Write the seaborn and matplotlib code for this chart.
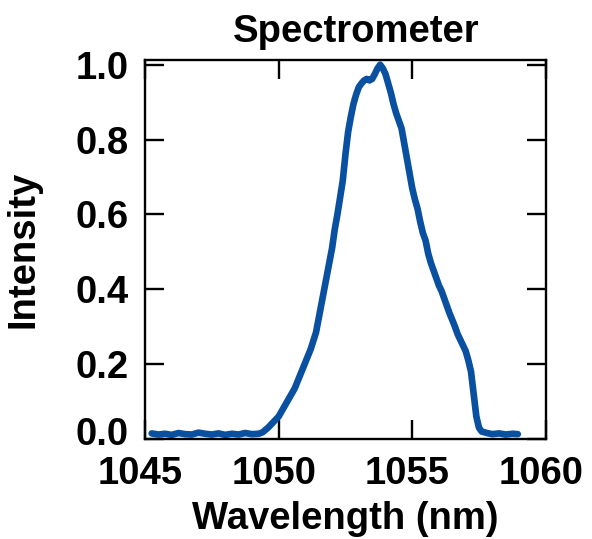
#!/usr/bin/env python3
"""Spectrometer trace: normalised intensity vs wavelength."""

import matplotlib as mpl
mpl.use("Agg")
import matplotlib.pyplot as plt
import matplotlib.transforms as mtransforms
import pandas as pd
import seaborn as sns


WAVELENGTH_NM = [
    1045.25, 1045.5, 1045.75, 1046.0, 1046.25, 1046.5, 1046.75, 1047.0,
    1047.25, 1047.5, 1047.75, 1048.0, 1048.25, 1048.5, 1048.75, 1049.0,
    1049.25, 1049.4, 1049.6, 1049.8, 1050.0, 1050.2, 1050.4, 1050.6,
    1050.8, 1051.0, 1051.2, 1051.4, 1051.6, 1051.8, 1052.0, 1052.1,
    1052.2, 1052.3, 1052.4, 1052.5, 1052.6, 1052.7, 1052.8, 1052.9,
    1053.0, 1053.1, 1053.2, 1053.3, 1053.4, 1053.5, 1053.6, 1053.7,
    1053.8, 1053.9, 1054.0, 1054.1, 1054.2, 1054.3, 1054.4, 1054.5,
    1054.6, 1054.7, 1054.8, 1054.9, 1055.0, 1055.1, 1055.2, 1055.3,
    1055.4, 1055.5, 1055.6, 1055.7, 1055.8, 1055.9, 1056.0, 1056.1,
    1056.2, 1056.3, 1056.4, 1056.5, 1056.6, 1056.7, 1056.8, 1056.9,
    1057.0, 1057.1, 1057.2, 1057.3, 1057.4, 1057.5, 1057.6, 1057.8,
    1058.0, 1058.25, 1058.5, 1058.75, 1058.95,
]

INTENSITY = [
    0.015, 0.012, 0.014, 0.011, 0.016, 0.013, 0.012, 0.017,
    0.014, 0.012, 0.015, 0.011, 0.014, 0.012, 0.016, 0.013,
    0.014, 0.018, 0.030, 0.045, 0.060, 0.085, 0.110, 0.135,
    0.170, 0.205, 0.240, 0.285, 0.360, 0.435, 0.510, 0.560,
    0.600, 0.645, 0.690, 0.760, 0.820, 0.860, 0.895, 0.920,
    0.940, 0.950, 0.958, 0.962, 0.958, 0.962, 0.975, 0.990,
    1.000, 0.990, 0.975, 0.950, 0.925, 0.895, 0.870, 0.850,
    0.830, 0.790, 0.750, 0.710, 0.670, 0.640, 0.615, 0.580,
    0.550, 0.530, 0.495, 0.470, 0.450, 0.430, 0.410, 0.395,
    0.375, 0.355, 0.335, 0.318, 0.300, 0.280, 0.265, 0.250,
    0.235, 0.210, 0.180, 0.120, 0.060, 0.030, 0.020, 0.016,
    0.013, 0.015, 0.012, 0.014, 0.013,
]

X_TICKS = [1045, 1050, 1055, 1060]
Y_TICKS = [0.0, 0.2, 0.4, 0.6, 0.8, 1.0]
LINE_COLOR = "#0a50a1"
FONT_SIZE = 27.5


def shift(text, fig, dx_px, dy_px):
    off = mtransforms.ScaledTranslation(dx_px / fig.dpi, dy_px / fig.dpi,
                                        fig.dpi_scale_trans)
    text.set_transform(text.get_transform() + off)


def main():
    sns.set_style("ticks")
    plt.rcParams["font.family"] = ["Liberation Sans", "DejaVu Sans"]
    plt.rcParams["font.weight"] = "bold"
    plt.rcParams["text.color"] = "black"
    plt.rcParams["axes.labelcolor"] = "black"

    df = pd.DataFrame({"Wavelength": WAVELENGTH_NM, "Intensity": INTENSITY})

    fig = plt.figure(figsize=(5.92, 5.39), dpi=100)
    ax = fig.add_axes([0.245, 0.1855, 0.677, 0.7035])
    sns.lineplot(data=df, x="Wavelength", y="Intensity", color=LINE_COLOR,
                 linewidth=4.8, ax=ax)

    ax.set_xlim(1045, 1060)
    ax.set_ylim(0, 1.013)
    ax.set_xticks(X_TICKS)
    ax.set_yticks(Y_TICKS)
    ax.set_yticklabels([f"{v:.1f}" for v in Y_TICKS])

    for side in ("top", "right", "bottom", "left"):
        ax.spines[side].set_visible(True)
        ax.spines[side].set_linewidth(1.7)
        ax.spines[side].set_color("black")
    ax.tick_params(direction="in", length=14, width=1.7, labelsize=FONT_SIZE,
                   top=True, right=True, colors="black")
    ax.tick_params(axis="x", pad=12)
    ax.tick_params(axis="y", pad=12)

    ax.set_title("Spectrometer", fontsize=FONT_SIZE, fontweight="bold", pad=13, x=0.526)
    ax.set_xlabel("Wavelength (nm)", fontsize=FONT_SIZE, fontweight="bold", labelpad=7)
    ax.set_ylabel("Intensity", fontsize=FONT_SIZE, fontweight="bold", labelpad=24)

    # nudge tick labels the way the original layout has them
    for lbl in ax.get_xticklabels():
        shift(lbl, fig, -5, 0)
    shift(ax.get_yticklabels()[0], fig, 0, 8)

    fig.savefig("out.png", dpi=100)
    plt.close(fig)


if __name__ == "__main__":
    main()
